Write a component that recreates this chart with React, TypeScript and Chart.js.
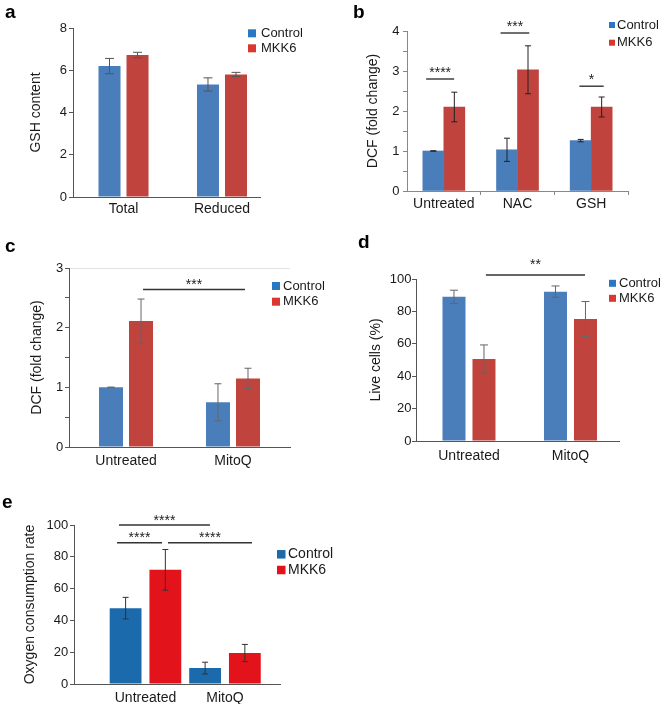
import React, { useEffect, useRef } from 'react';
import { Chart, registerables } from 'chart.js';
Chart.register(...registerables);

const FONT = "'Liberation Sans', Arial, Helvetica, sans-serif";
const W = 660;
const H = 704;

// ---------- Panel a ----------
const aCategories = ['Total', 'Reduced'];
const aControl = [6.2, 5.33];
const aControlErr = [0.36, 0.31];
const aMKK6 = [6.72, 5.8];
const aMKK6Err = [0.13, 0.1];

// ---------- Panel b ----------
const bCategories = ['Untreated', 'NAC', 'GSH'];
const bControl = [1.0, 1.03, 1.26];
const bControlErr = [0.005, 0.29, 0.03];
const bMKK6 = [2.1, 3.03, 2.1];
const bMKK6Err = [0.37, 0.6, 0.25];
const bSigText = ['****', '***', '*'];
const bSigFrom = [-0.24, 0.77, 1.84];
const bSigTo = [0.14, 1.16, 2.17];
const bSigY = [2.8, 3.95, 2.62];

// ---------- Panel c ----------
const cCategories = ['Untreated', 'MitoQ'];
const cControl = [1.0, 0.75];
const cControlErr = [0.005, 0.31];
const cMKK6 = [2.11, 1.15];
const cMKK6Err = [0.37, 0.17];
const cSigText = ['***'];
const cSigFrom = [0.159];
const cSigTo = [1.112];
const cSigY = [2.64];

// ---------- Panel d ----------
const dCategories = ['Untreated', 'MitoQ'];
const dControl = [89, 92.2];
const dControlErr = [4.1, 3.5];
const dMKK6 = [50.6, 75.3];
const dMKK6Err = [8.7, 10.8];
const dSigText = ['**'];
const dSigFrom = [0.167];
const dSigTo = [1.143];
const dSigY = [102.5];

// ---------- Panel e ----------
const eCategories = ['Untreated', 'MitoQ'];
const eControl = [47.7, 10];
const eControlErr = [6.8, 3.7];
const eMKK6 = [71.8, 19.5];
const eMKK6Err = [12.8, 5.4];
const eSigText = ['****', '****', '****'];
const eSigFrom = [-0.333, -0.358, 0.283];
const eSigTo = [0.811, 0.208, 1.34];
const eSigY = [100, 88.8, 88.8];

const SERIES_NAMES = ['Control', 'MKK6'];

type Spec = {
  id: string;
  letter: string; letterX: number; letterY: number;
  categories: string[];
  values: number[][]; errors: number[][];
  colors: string[]; legendColors: string[];
  yMax: number; yStep: number; yLabelEvery: number;
  yTitle: string; padLeft: number;
  plot: { left: number; right: number; top: number; bottom: number };
  xMin: number; xMax: number;
  catPct?: number; barPct?: number; barThickness?: number;
  boundaryTicks?: boolean; topGrid?: boolean;
  axisColor: string; errColor: string; capW: number;
  xPad: number; yPad: number;
  legend: { boxX: number; box: number; textX: number; y0: number; dy: number; size: number };
  sig?: { text: string[]; from: number[]; to: number[]; y: number[]; raise: number };
};

const panels: Spec[] = [
  {
    id: 'a', letter: 'a', letterX: 5, letterY: 18,
    categories: aCategories, values: [aControl, aMKK6], errors: [aControlErr, aMKK6Err],
    colors: ['#4a7ebb', '#c0433e'], legendColors: ['#2a78c4', '#d9372f'],
    yMax: 8, yStep: 2, yLabelEvery: 2, yTitle: 'GSH content', padLeft: 27.6,
    plot: { left: 73, right: 260, top: 28, bottom: 197 },
    xMin: -0.513, xMax: 1.386, catPct: 0.569, barPct: 0.786,
    axisColor: '#555', errColor: '#555', capW: 9, xPad: 4, yPad: 2,
    legend: { boxX: 248, box: 8, textX: 261, y0: 33.3, dy: 15, size: 13 },
  },
  {
    id: 'b', letter: 'b', letterX: 353, letterY: 18,
    categories: bCategories, values: [bControl, bMKK6], errors: [bControlErr, bMKK6Err],
    colors: ['#4a7ebb', '#c0433e'], legendColors: ['#2a78c4', '#d9372f'],
    yMax: 4, yStep: 0.5, yLabelEvery: 1, yTitle: 'DCF (fold change)', padLeft: 365.1,
    plot: { left: 407, right: 628, top: 31, bottom: 191 },
    xMin: -0.5, xMax: 2.5, barThickness: 21, boundaryTicks: true,
    axisColor: '#888', errColor: '#222', capW: 6, xPad: 1, yPad: 3.5,
    legend: { boxX: 609, box: 6, textX: 617, y0: 25, dy: 17.7, size: 13 },
    sig: { text: bSigText, from: bSigFrom, to: bSigTo, y: bSigY, raise: 2 },
  },
  {
    id: 'c', letter: 'c', letterX: 5, letterY: 252,
    categories: cCategories, values: [cControl, cMKK6], errors: [cControlErr, cMKK6Err],
    colors: ['#4a7ebb', '#c0433e'], legendColors: ['#2a78c4', '#d9372f'],
    yMax: 3, yStep: 0.5, yLabelEvery: 1, yTitle: 'DCF (fold change)', padLeft: 29.1,
    plot: { left: 69, right: 290, top: 268, bottom: 447 },
    xMin: -0.533, xMax: 1.533, catPct: 0.561, barPct: 0.8, topGrid: true,
    axisColor: '#555', errColor: '#666', capW: 7, xPad: 6, yPad: 1.7,
    legend: { boxX: 272, box: 8, textX: 283, y0: 286, dy: 15.7, size: 13 },
    sig: { text: cSigText, from: cSigFrom, to: cSigTo, y: cSigY, raise: 0.5 },
  },
  {
    id: 'd', letter: 'd', letterX: 358, letterY: 248,
    categories: dCategories, values: [dControl, dMKK6], errors: [dControlErr, dMKK6Err],
    colors: ['#4a7ebb', '#c0433e'], legendColors: ['#2a78c4', '#d9372f'],
    yMax: 100, yStep: 20, yLabelEvery: 20, yTitle: 'Live cells (%)', padLeft: 368.1,
    plot: { left: 416, right: 619, top: 279, bottom: 441 },
    xMin: -0.522, xMax: 1.478, catPct: 0.591, barPct: 0.767,
    axisColor: '#555', errColor: '#666', capW: 8, xPad: 7, yPad: 0.5,
    legend: { boxX: 609, box: 7, textX: 619, y0: 283.3, dy: 15, size: 13 },
    sig: { text: dSigText, from: dSigFrom, to: dSigTo, y: dSigY, raise: 6 },
  },
  {
    id: 'e', letter: 'e', letterX: 2, letterY: 508,
    categories: eCategories, values: [eControl, eMKK6], errors: [eControlErr, eMKK6Err],
    colors: ['#1b6aab', '#e3131b'], legendColors: ['#1b6aab', '#e3131b'],
    yMax: 100, yStep: 20, yLabelEvery: 20, yTitle: 'Oxygen consumption rate', padLeft: 22.1,
    plot: { left: 74, right: 280, top: 525, bottom: 684 },
    xMin: -0.899, xMax: 1.692, catPct: 1.0, barPct: 0.8,
    axisColor: '#555', errColor: '#333', capW: 6, xPad: 6, yPad: 1.7,
    legend: { boxX: 277, box: 8.5, textX: 288, y0: 554.3, dy: 15.7, size: 14 },
    sig: { text: eSigText, from: eSigFrom, to: eSigTo, y: eSigY, raise: 0.5 },
  },
];

function extrasPlugin(s: Spec) {
  return {
    id: 'extras_' + s.id,
    afterDatasetsDraw(chart: any) {
      const ctx = chart.ctx;
      const ys = chart.scales.y;
      chart.data.datasets.forEach((ds: any, di: number) => {
        const meta = chart.getDatasetMeta(di);
        meta.data.forEach((bar: any, i: number) => {
          const v = ds.data[i];
          const e = s.errors[di][i];
          const yt = ys.getPixelForValue(v + e);
          const yb = ys.getPixelForValue(v - e);
          const half = s.capW / 2;
          ctx.save();
          ctx.strokeStyle = s.errColor;
          ctx.lineWidth = 1;
          ctx.beginPath();
          ctx.moveTo(bar.x, yt); ctx.lineTo(bar.x, yb);
          ctx.moveTo(bar.x - half, yt); ctx.lineTo(bar.x + half, yt);
          ctx.moveTo(bar.x - half, yb); ctx.lineTo(bar.x + half, yb);
          ctx.stroke();
          ctx.restore();
        });
      });
    },
    afterDraw(chart: any) {
      const ctx = chart.ctx;
      const xs = chart.scales.x;
      const ys = chart.scales.y;
      ctx.save();
      if (s.sig) {
        const sg = s.sig;
        sg.text.forEach((t, i) => {
          const x1 = xs.getPixelForValue(sg.from[i]);
          const x2 = xs.getPixelForValue(sg.to[i]);
          const yy = ys.getPixelForValue(sg.y[i]);
          ctx.strokeStyle = '#333';
          ctx.lineWidth = 1.4;
          ctx.beginPath();
          ctx.moveTo(x1, yy); ctx.lineTo(x2, yy);
          ctx.stroke();
          ctx.fillStyle = '#222';
          ctx.font = `14px ${FONT}`;
          ctx.textAlign = 'center';
          ctx.textBaseline = 'alphabetic';
          ctx.fillText(t, (x1 + x2) / 2, yy - sg.raise);
        });
      }
      const L = s.legend;
      chart.data.datasets.forEach((ds: any, di: number) => {
        const cy = L.y0 + di * L.dy;
        ctx.fillStyle = s.legendColors[di];
        ctx.fillRect(L.boxX, cy - L.box / 2, L.box, L.box);
        ctx.fillStyle = '#1a1a1a';
        ctx.font = `${L.size}px ${FONT}`;
        ctx.textAlign = 'left';
        ctx.textBaseline = 'middle';
        ctx.fillText(ds.label, L.textX, cy);
      });
      ctx.fillStyle = '#000';
      ctx.font = `bold 19px ${FONT}`;
      ctx.textAlign = 'left';
      ctx.textBaseline = 'alphabetic';
      ctx.fillText(s.letter, s.letterX, s.letterY);
      ctx.restore();
    },
  };
}

function buildConfig(s: Spec): any {
  const xTickVals: number[] = [];
  s.categories.forEach((_, i) => {
    xTickVals.push(i);
    if (s.boundaryTicks) xTickVals.push(i + 0.5);
  });
  const yTickVals: number[] = [];
  for (let k = 0; k * s.yStep <= s.yMax + 1e-9; k++) yTickVals.push(+(k * s.yStep).toFixed(6));

  return {
    type: 'bar',
    data: {
      labels: s.categories.map((_, i) => i),
      datasets: s.values.map((vals, di) => ({
        label: SERIES_NAMES[di],
        data: vals,
        backgroundColor: s.colors[di],
        borderWidth: 0,
        categoryPercentage: s.catPct,
        barPercentage: s.barPct,
        barThickness: s.barThickness,
      })),
    },
    options: {
      responsive: false,
      animation: false,
      devicePixelRatio: 1,
      events: [],
      layout: {
        padding: { left: s.padLeft, right: W - s.plot.right, top: s.plot.top, bottom: 0 },
      },
      plugins: { legend: { display: false }, tooltip: { enabled: false }, title: { display: false } },
      scales: {
        x: {
          type: 'linear',
          min: s.xMin,
          max: s.xMax,
          offset: false,
          afterBuildTicks: (sc: any) => { sc.ticks = xTickVals.map((v) => ({ value: v })); },
          afterFit: (sc: any) => { sc.height = H - s.plot.bottom; },
          grid: {
            display: true,
            offset: false,
            drawOnChartArea: false,
            drawTicks: !!s.boundaryTicks,
            tickLength: 4,
            color: 'rgba(0,0,0,0)',
            tickColor: (c: any) => (c.tick && !Number.isInteger(c.tick.value) ? s.axisColor : 'rgba(0,0,0,0)'),
          },
          border: { display: true, color: s.axisColor, width: 1 },
          ticks: {
            autoSkip: false,
            maxRotation: 0,
            minRotation: 0,
            padding: s.xPad,
            color: '#1a1a1a',
            font: { family: FONT, size: 14 },
            callback: (v: number) => (Number.isInteger(v) ? s.categories[v] : ''),
          },
        },
        y: {
          type: 'linear',
          min: 0,
          max: s.yMax,
          afterBuildTicks: (sc: any) => { sc.ticks = yTickVals.map((v) => ({ value: v })); },
          afterFit: (sc: any) => { sc.width = s.plot.left - s.padLeft; },
          grid: {
            display: true,
            drawOnChartArea: !!s.topGrid,
            drawTicks: true,
            tickLength: 4,
            color: (c: any) => (s.topGrid && c.tick && c.tick.value === s.yMax ? '#e2e2e2' : 'rgba(0,0,0,0)'),
            tickColor: s.axisColor,
          },
          border: { display: true, color: s.axisColor, width: 1 },
          ticks: {
            autoSkip: false,
            padding: s.yPad,
            color: '#1a1a1a',
            font: { family: FONT, size: 13 },
            callback: (v: number) => {
              const r = v / s.yLabelEvery;
              return Math.abs(r - Math.round(r)) < 1e-6 ? String(v) : '';
            },
          },
          title: {
            display: true,
            text: s.yTitle,
            color: '#1a1a1a',
            font: { family: FONT, size: 14 },
            padding: { top: 0, bottom: 0 },
          },
        },
      },
    },
    plugins: [extrasPlugin(s)],
  };
}

function Panel({ spec }: { spec: Spec }) {
  const ref = useRef<HTMLCanvasElement>(null);
  useEffect(() => {
    const chart = new Chart(ref.current as HTMLCanvasElement, buildConfig(spec));
    return () => chart.destroy();
  }, [spec]);
  return (
    <canvas
      ref={ref}
      width={W}
      height={H}
      style={{ position: 'absolute', left: 0, top: 0, width: W, height: H }}
    />
  );
}

export default function App() {
  return (
    <div style={{ position: 'fixed', left: 0, top: 0, width: W, height: H, background: '#fff', overflow: 'hidden' }}>
      {panels.map((p) => (
        <Panel key={p.id} spec={p} />
      ))}
    </div>
  );
}
